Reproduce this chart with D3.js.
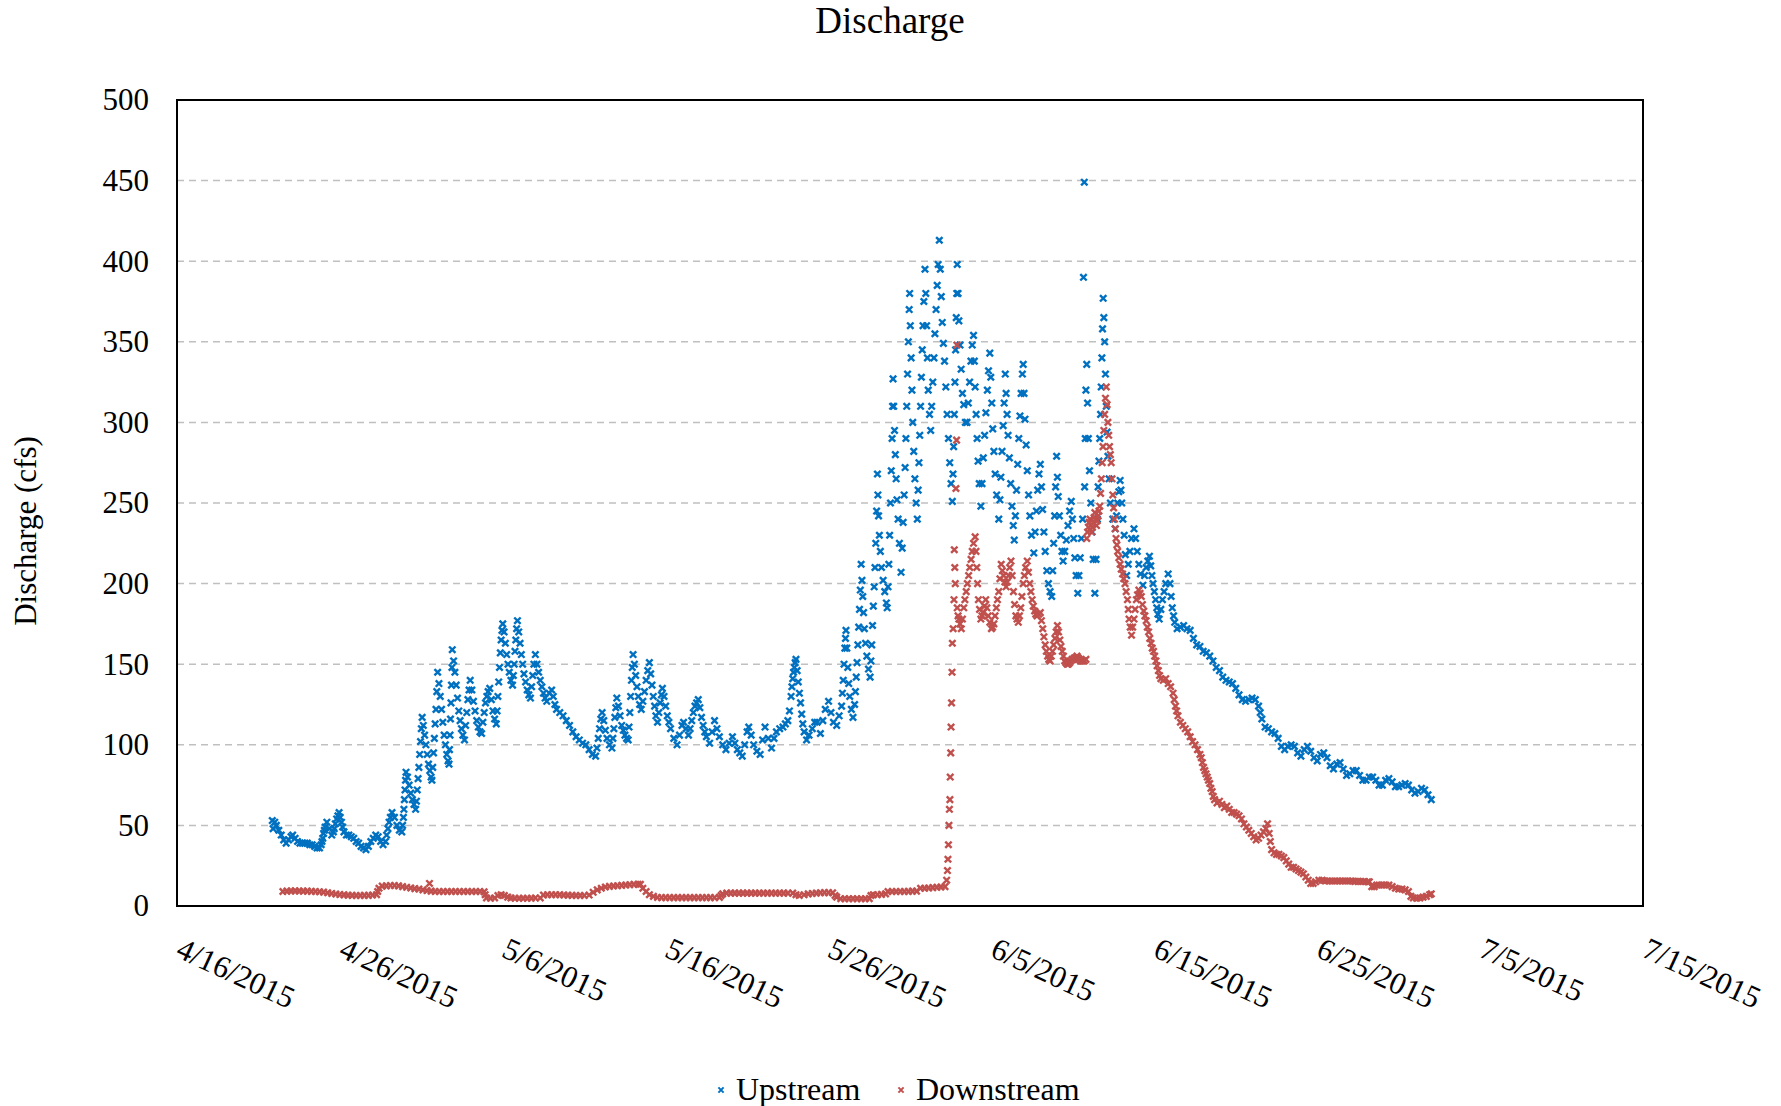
<!DOCTYPE html>
<html lang="en">
<head>
<meta charset="UTF-8">
<title>Discharge</title>
<script src="https://d3js.org/d3.v7.min.js"></script>
<style>
  body { margin: 0; background: #fff; }
  text { font-family: "Liberation Serif", "Times New Roman", serif; fill: #000; }
  .grid line { stroke: #c0c0c0; stroke-width: 1.5; stroke-dasharray: 7,5; }
  .axis path { display: none; }
</style>
</head>
<body>
<div id="chart"></div>
<script>
const yTicks = [0, 50, 100, 150, 200, 250, 300, 350, 400, 450, 500];
const xTickDates = ["2015-04-16", "2015-04-26", "2015-05-06", "2015-05-16", "2015-05-26",
                    "2015-06-05", "2015-06-15", "2015-06-25", "2015-07-05", "2015-07-15"];
const seriesNames = ["Upstream", "Downstream"];
const seriesColors = ["#0070C0", "#C0504D"];

// [days after 4/16/2015 00:00, discharge cfs]
const upstream = [
  [5.85,53],[5.9,48],[6.0,52],[6.1,50],[6.25,47],[6.4,44],[6.55,41],[6.7,39],[6.85,41],[7.0,43],
  [7.1,44],[7.25,42],[7.4,40],[7.55,39],[7.7,39],[7.85,39],[8.0,39],[8.15,38],[8.3,38],[8.45,37],
  [8.6,36],[8.75,36],[8.85,38],[8.9,40],[8.95,42],[9.0,45],[9.05,47],[9.1,49],[9.2,52],[9.35,48],[9.5,44],
  [9.6,46],[9.65,48],[9.72,51],[9.8,54],[9.88,56],[9.95,58],[10.02,55],[10.1,52],[10.17,49],[10.25,46],
  [10.4,44],[10.55,44],[10.7,43],[10.85,42],[11.0,40],[11.15,39],[11.3,37],[11.45,36],[11.6,35],[11.75,37],
  [11.9,40],[12.05,42],[12.2,44],[12.35,43],[12.5,40],[12.65,38],[12.8,40],[12.87,44],[12.95,48],[13.02,52],
  [13.1,55],[13.2,58],[13.35,55],[13.5,50],[13.65,47],[13.8,46],[13.85,50],[13.9,55],[13.93,60],[13.96,66],
  [14.0,72],[14.03,78],[14.06,83],[14.15,80],[14.25,75],[14.35,70],[14.45,66],[14.55,63],[14.65,60],
  [14.7,65],[14.75,72],[14.8,79],[14.85,86],[14.9,94],[14.95,102],[15.0,110],[15.05,117],[15.12,112],
  [15.2,106],[15.28,100],[15.36,94],[15.44,88],[15.52,84],[15.6,80],[15.65,78],[15.7,86],[15.75,95],
  [15.8,104],[15.85,113],[15.9,122],[15.95,133],[16.0,145],[16.08,138],[16.16,130],[16.24,122],[16.32,114],
  [16.4,106],[16.48,100],[16.56,94],[16.64,90],[16.7,88],[16.73,97],[16.76,106],[16.79,116],[16.82,126],
  [16.85,137],[16.88,148],[16.9,159],[16.98,152],[17.06,145],[17.14,137],[17.22,129],[17.3,121],[17.38,115],
  [17.46,110],[17.55,106],[17.65,103],[17.72,112],[17.79,120],[17.86,128],[17.93,134],[18.0,140],[18.1,134],
  [18.2,127],[18.3,121],[18.4,115],[18.5,111],[18.6,108],[18.7,107],[18.78,114],[18.86,120],[18.94,126],
  [19.02,130],[19.1,133],[19.2,135],[19.3,128],[19.4,121],[19.5,116],[19.6,113],[19.65,121],[19.7,130],
  [19.75,139],[19.8,148],[19.85,157],[19.9,165],[19.95,171],[20.0,175],[20.08,170],[20.16,163],[20.24,156],
  [20.32,150],[20.4,145],[20.5,140],[20.6,137],[20.65,143],[20.7,150],[20.75,158],[20.8,165],[20.85,172],
  [20.9,177],[20.98,170],[21.06,163],[21.14,156],[21.22,150],[21.3,144],[21.4,139],[21.5,134],[21.6,131],
  [21.7,129],[21.77,136],[21.84,143],[21.91,150],[22.0,156],[22.1,150],[22.2,145],[22.3,140],[22.4,136],
  [22.5,132],[22.6,129],[22.7,127],[22.85,132],[23.0,134],[23.1,130],[23.2,125],[23.3,122],[23.5,120],
  [23.7,118],[23.9,115],[24.1,112],[24.3,108],[24.5,105],[24.7,103],[24.9,101],[25.1,100],[25.3,97],
  [25.5,94],[25.7,93],[25.78,98],[25.86,104],[25.94,110],[26.02,116],[26.1,120],[26.2,115],[26.3,109],
  [26.4,104],[26.55,100],[26.7,98],[26.76,104],[26.82,110],[26.88,117],[26.94,123],[27.0,129],[27.1,124],
  [27.2,118],[27.3,112],[27.4,109],[27.5,106],[27.6,104],[27.7,103],[27.75,111],[27.8,120],[27.85,130],
  [27.9,140],[27.95,148],[28.0,156],[28.08,150],[28.16,143],[28.24,136],[28.32,130],[28.4,125],[28.5,122],
  [28.6,127],[28.7,133],[28.8,140],[28.9,146],[29.0,151],[29.08,144],[29.16,137],[29.24,130],[29.32,124],
  [29.4,118],[29.5,114],[29.58,120],[29.66,126],[29.74,131],[29.8,135],[29.9,130],[30.0,124],[30.1,118],
  [30.2,114],[30.3,110],[30.5,104],[30.7,100],[30.85,106],[31.0,112],[31.1,114],[31.25,110],[31.4,106],
  [31.5,110],[31.6,115],[31.7,120],[31.8,124],[31.9,126],[32.0,128],[32.1,123],[32.2,117],[32.3,112],
  [32.4,108],[32.5,105],[32.7,101],[32.85,108],[33.0,115],[33.15,110],[33.3,105],[33.5,100],[33.7,97],
  [33.9,101],[34.1,105],[34.25,101],[34.4,97],[34.55,95],[34.7,93],[34.85,100],[35.0,108],[35.1,111],
  [35.25,106],[35.4,100],[35.6,96],[35.8,94],[35.95,103],[36.1,111],[36.3,104],[36.5,98],[36.65,104],
  [36.8,108],[37.0,110],[37.2,111],[37.35,113],[37.5,115],[37.6,121],[37.7,130],[37.75,136],[37.8,141],
  [37.85,145],[37.9,148],[37.95,151],[38.0,153],[38.07,146],[38.14,139],[38.21,132],[38.28,126],[38.35,119],
  [38.42,113],[38.5,108],[38.65,103],[38.8,106],[39.0,110],[39.15,114],[39.3,114],[39.5,107],[39.65,115],
  [39.8,122],[40.0,127],[40.15,120],[40.3,114],[40.5,112],[40.65,118],[40.8,124],[40.85,132],[40.9,140],
  [40.95,150],[41.0,160],[41.04,166],[41.07,171],[41.12,160],[41.18,148],[41.24,138],[41.3,130],[41.4,122],
  [41.5,117],[41.6,125],[41.65,133],[41.7,142],[41.75,151],[41.8,162],[41.85,173],[41.9,184],[41.95,196],
  [42.0,212],[42.05,202],[42.1,192],[42.15,182],[42.2,172],[42.27,163],[42.35,155],[42.45,147],[42.55,142],
  [42.6,152],[42.65,162],[42.7,174],[42.75,186],[42.8,198],[42.85,210],[42.9,225],[42.95,245],[43.0,268],
  [43.03,255],[43.07,242],[43.12,230],[43.18,220],[43.25,210],[43.35,202],[43.45,195],[43.55,188],[43.6,185],
  [43.65,198],[43.7,212],[43.75,230],[43.8,250],[43.85,270],[43.9,290],[43.93,310],[43.96,327],[44.0,310],
  [44.05,295],[44.1,280],[44.15,265],[44.2,252],[44.27,240],[44.35,225],[44.45,207],[44.52,222],[44.58,238],
  [44.64,255],[44.7,272],[44.75,290],[44.8,310],[44.85,330],[44.9,350],[44.95,370],[44.98,380],[45.02,360],
  [45.07,340],[45.12,320],[45.17,300],[45.23,282],[45.3,265],[45.38,250],[45.45,240],[45.5,258],[45.55,275],
  [45.6,292],[45.65,310],[45.7,328],[45.75,345],[45.8,360],[45.85,375],[45.92,395],[45.97,380],[46.02,360],
  [46.07,340],[46.12,320],[46.2,305],[46.27,295],[46.33,310],[46.4,325],[46.47,340],[46.53,355],[46.6,370],
  [46.67,385],[46.73,398],[46.8,413],[46.86,395],[46.92,378],[46.98,362],[47.05,349],[47.12,338],[47.2,322],
  [47.28,305],[47.36,290],[47.44,275],[47.52,262],[47.6,251],[47.64,268],[47.68,285],[47.72,305],[47.76,325],
  [47.8,345],[47.84,365],[47.87,380],[47.9,398],[47.95,380],[48.0,363],[48.07,348],[48.14,333],[48.22,318],
  [48.3,311],[48.4,300],[48.5,300],[48.58,312],[48.66,325],[48.74,338],[48.82,348],[48.9,354],[48.95,338],
  [49.0,322],[49.06,305],[49.12,290],[49.18,276],[49.25,262],[49.35,248],[49.42,262],[49.5,278],[49.58,292],
  [49.66,306],[49.75,320],[49.82,332],[49.9,343],[49.96,328],[50.02,312],[50.08,296],[50.15,282],[50.23,268],
  [50.32,255],[50.45,240],[50.52,252],[50.58,266],[50.65,282],[50.72,298],[50.78,312],[50.85,330],[50.9,318],
  [50.96,305],[51.02,292],[51.1,278],[51.18,262],[51.26,248],[51.34,236],[51.4,227],[51.47,242],[51.54,258],
  [51.61,274],[51.68,290],[51.75,304],[51.82,318],[51.9,330],[51.95,336],[52.0,318],[52.06,302],[52.13,286],
  [52.2,270],[52.28,255],[52.36,242],[52.46,230],[52.6,219],[52.68,232],[52.76,245],[52.84,258],[52.92,268],
  [53.0,274],[53.07,260],[53.14,246],[53.22,232],[53.3,220],[53.4,208],[53.5,200],[53.6,195],[53.7,192],
  [53.76,208],[53.82,225],[53.88,242],[53.94,260],[54.0,279],[54.05,266],[54.1,254],[54.17,242],[54.25,230],
  [54.33,220],[54.4,214],[54.5,220],[54.6,227],[54.7,236],[54.8,245],[54.9,251],[54.97,240],[55.05,228],
  [55.12,216],[55.2,205],[55.3,194],[55.37,205],[55.45,216],[55.52,228],[55.6,240],[55.65,390],[55.7,449],
  [55.72,260],[55.76,290],[55.8,320],[55.85,336],[55.9,312],[55.95,290],[56.02,270],[56.1,250],[56.18,232],
  [56.25,215],[56.35,194],[56.42,215],[56.5,240],[56.55,260],[56.6,276],[56.65,290],[56.7,305],[56.74,322],
  [56.78,340],[56.82,358],[56.86,377],[56.9,365],[56.95,350],[57.0,330],[57.05,310],[57.1,294],[57.15,279],
  [57.22,265],[57.3,250],[57.45,240],[57.6,234],[57.68,242],[57.75,250],[57.82,257],[57.9,264],[57.95,258],
  [58.0,250],[58.07,240],[58.15,230],[58.22,218],[58.3,205],[58.4,212],[58.5,220],[58.6,228],[58.75,234],
  [58.85,228],[58.95,220],[59.05,212],[59.15,206],[59.3,199],[59.4,205],[59.5,210],[59.6,214],[59.7,217],
  [59.78,211],[59.85,205],[59.92,200],[60.0,195],[60.08,190],[60.15,185],[60.22,181],[60.3,178],[60.4,184],
  [60.5,190],[60.6,195],[60.7,200],[60.85,206],[60.96,200],[61.03,192],[61.1,185],[61.18,180],[61.25,176],
  [61.4,172],[61.6,173],[61.8,174],[62.0,172],[62.2,171],[62.4,166],[62.6,162],[62.8,161],[63.0,158],
  [63.2,157],[63.4,155],[63.6,152],[63.8,148],[64.0,146],[64.2,142],[64.4,140],[64.6,139],[64.8,138],
  [65.0,135],[65.2,131],[65.4,128],[65.6,127],[65.8,128],[66.0,129],[66.2,128],[66.4,124],[66.5,120],
  [66.6,116],[66.8,111],[67.0,110],[67.2,108],[67.4,107],[67.6,104],[67.8,99],[68.0,97],[68.2,99],
  [68.4,100],[68.6,99],[68.8,95],[69.0,93],[69.2,97],[69.4,99],[69.6,96],[69.8,92],[70.0,90],[70.2,94],
  [70.4,95],[70.6,92],[70.8,87],[71.0,85],[71.2,88],[71.4,89],[71.6,85],[71.8,81],[72.0,82],[72.2,84],
  [72.4,84],[72.6,81],[72.8,78],[73.0,78],[73.2,80],[73.4,80],[73.6,78],[73.8,75],[74.0,75],[74.2,78],
  [74.4,79],[74.6,77],[74.8,74],[75.0,74],[75.2,75],[75.4,76],[75.6,75],[75.8,72],[76.0,70],[76.2,71],
  [76.4,73],[76.6,72],[76.8,69],[77.0,66]
];

const downstream = [
  [6.5,9],[6.75,9.2],[7,9.3],[7.25,9.4],[7.5,9.3],[7.75,9.2],[8,9.2],[8.25,9.1],[8.5,9],[8.75,8.8],
  [9,8.6],[9.25,8.2],[9.5,7.8],[9.75,7.4],[10,7.1],[10.25,6.9],[10.5,6.7],[10.75,6.6],[11,6.5],[11.25,6.5],
  [11.5,6.6],[11.75,6.6],[12,6.8],[12.25,7],[12.32,9],[12.4,11],[12.6,12.3],[12.85,12.5],[13.1,12.7],[13.35,12.7],
  [13.6,12.5],[13.85,12],[14.1,11.6],[14.35,11.2],[14.6,10.8],[14.85,10.5],[15.1,10],[15.35,9.6],[15.5,14],
  [15.6,9.2],[15.85,9],[16.1,9],[16.35,9],[16.6,9],[16.85,9],[17.1,9],[17.35,9],[17.6,9],[17.85,9],
  [18.1,9],[18.35,9],[18.6,9],[18.85,8.8],[18.92,7],[19,5],[19.25,4.8],[19.5,5],[19.7,6.5],[19.9,7],[20.1,6.5],
  [20.3,5.5],[20.5,5],[20.75,4.8],[21,4.8],[21.25,4.8],[21.5,4.8],[21.75,4.8],[22,5],[22.3,5],[22.5,6.8],
  [22.75,7],[23,7],[23.25,7],[23.5,7],[23.75,6.8],[24,6.7],[24.25,6.6],[24.5,6.5],[24.75,6.5],[25,6.5],
  [25.3,6.8],[25.55,8.5],[25.8,10],[26.05,11],[26.3,11.8],[26.55,12.2],[26.8,12.4],[27.05,12.6],[27.3,12.8],
  [27.55,13],[27.8,13.2],[28.05,13.4],[28.3,13.5],[28.45,13.5],[28.6,11],[28.8,9],[29,7],[29.25,6],
  [29.5,5.3],[29.75,5.2],[30,5.2],[30.25,5.2],[30.5,5.2],[30.75,5.2],[31,5.2],[31.25,5.2],[31.5,5.2],
  [31.75,5.2],[32,5.2],[32.25,5.2],[32.5,5.2],[32.75,5.2],[33,5.2],[33.3,5.3],[33.4,6.5],[33.5,7.5],[33.75,8],
  [34,8],[34.25,8],[34.5,8],[34.75,8],[35,8],[35.25,8],[35.5,8],[35.75,8],[36,8],[36.25,8],[36.5,8],
  [36.75,8],[37,8],[37.25,8],[37.5,8],[37.8,8],[38,7],[38.2,6.5],[38.5,7],[38.75,7.5],[39,7.8],[39.25,8],
  [39.5,8.2],[39.75,8.3],[40,8.3],[40.25,8.2],[40.4,6.5],[40.5,5.5],[40.75,4.5],[41,4.5],[41.25,4.5],[41.5,4.5],
  [41.75,4.5],[42,4.5],[42.25,4.5],[42.5,4.6],[42.6,6.5],[42.75,7],[43,7],[43.25,7.2],[43.5,7.5],
  [43.65,9],[43.9,9],[44.15,9],[44.4,9],[44.65,9],[44.9,9.1],[45.15,9.2],[45.4,9.2],[45.65,11],[45.9,11],
  [46.15,11.2],[46.4,11.4],[46.65,11.6],[46.9,11.8],[47.15,12],[47.25,16],[47.3,22],[47.33,29],[47.36,38],
  [47.39,50],[47.42,60],[47.45,66],[47.47,80],[47.5,95],[47.52,111],[47.55,126],[47.58,145],[47.6,163],
  [47.65,172],[47.7,190],[47.72,221],[47.75,210],[47.78,200],[47.82,259],[47.86,289],[47.88,348],[47.9,185],
  [47.95,180],[48,178],[48.07,175],[48.15,172],[48.22,178],[48.3,185],[48.37,190],[48.45,195],[48.52,200],
  [48.6,205],[48.67,210],[48.75,215],[48.82,220],[48.9,225],[49,229],[49.05,220],[49.1,210],[49.15,200],
  [49.2,190],[49.27,184],[49.35,178],[49.42,180],[49.5,182],[49.57,186],[49.65,190],[49.72,185],[49.8,180],
  [49.9,176],[50,172],[50.07,173],[50.15,175],[50.22,180],[50.3,185],[50.37,190],[50.45,195],[50.52,203],
  [50.6,212],[50.67,208],[50.75,205],[50.82,201],[50.9,198],[50.97,201],[51.05,205],[51.12,210],[51.2,214],
  [51.27,205],[51.35,195],[51.42,187],[51.5,180],[51.57,178],[51.65,176],[51.72,180],[51.8,185],[51.87,192],
  [51.95,200],[52.02,205],[52.1,210],[52.2,214],[52.27,207],[52.35,200],[52.42,195],[52.5,190],[52.57,186],
  [52.65,183],[52.72,181],[52.8,180],[52.9,181],[53,182],[53.07,177],[53.15,172],[53.22,167],[53.3,162],
  [53.37,158],[53.45,155],[53.52,153],[53.6,152],[53.67,155],[53.75,158],[53.82,162],[53.9,166],[53.97,170],
  [54.05,174],[54.12,170],[54.2,165],[54.27,161],[54.35,158],[54.42,155],[54.5,152],[54.57,151],[54.65,150],
  [54.72,150],[54.8,151],[54.87,152],[54.95,153],[55.02,153],[55.1,154],[55.17,154],[55.25,155],[55.32,154],
  [55.4,153],[55.47,152],[55.55,152],[55.62,152],[55.7,152],[55.8,153],[55.85,228],[55.9,232],[55.95,235],
  [56,238],[56.05,240],[56.1,236],[56.15,232],[56.2,235],[56.25,238],[56.3,241],[56.35,244],[56.4,240],
  [56.45,236],[56.5,239],[56.55,242],[56.6,245],[56.65,248],[56.7,256],[56.75,265],[56.8,275],[56.85,285],
  [56.9,295],[56.95,305],[57,315],[57.05,322],[57.1,311],[57.15,300],[57.2,292],[57.25,285],[57.3,280],
  [57.35,275],[57.4,265],[57.45,255],[57.5,247],[57.55,240],[57.6,234],[57.65,228],[57.7,224],[57.75,220],
  [57.82,216],[57.9,212],[57.97,209],[58.05,206],[58.12,203],[58.2,200],[58.27,195],[58.35,190],[58.4,184],
  [58.45,178],[58.52,173],[58.6,168],[58.67,173],[58.75,178],[58.82,184],[58.9,190],[58.97,193],[59.05,196],
  [59.12,194],[59.2,192],[59.27,187],[59.35,183],[59.42,180],[59.5,177],[59.57,173],[59.65,170],[59.72,166],
  [59.8,163],[59.87,160],[59.95,158],[60.02,155],[60.1,152],[60.17,149],[60.25,146],[60.32,143],[60.4,141],
  [60.55,140],[60.7,141],[60.85,138],[61,136],[61.15,132],[61.22,128],[61.3,124],[61.37,121],[61.45,118],
  [61.6,114],[61.75,112],[61.9,110],[62.05,108],[62.2,105],[62.35,102],[62.5,100],[62.65,97],[62.8,94],
  [62.88,92],[62.95,89],[63.02,86],[63.1,84],[63.17,82],[63.25,80],[63.32,78],[63.4,76],[63.47,73],
  [63.55,71],[63.62,68],[63.7,66],[63.85,64],[64,65],[64.15,63],[64.3,61],[64.45,62],[64.6,60],[64.75,58],
  [64.9,58],[65.05,57],[65.2,56],[65.35,54],[65.5,51],[65.65,49],[65.8,47],[65.95,45],[66.1,43],[66.25,41],
  [66.4,42],[66.55,44],[66.7,46],[66.85,48],[66.95,51],[67.05,45],[67.12,40],[67.2,35],[67.35,33],[67.5,32],
  [67.65,32],[67.8,31],[67.95,30],[68.1,28],[68.25,26],[68.4,24],[68.55,24],[68.7,23],[68.85,22],[69,21],
  [69.15,20],[69.3,18],[69.45,16],[69.6,14],[69.75,14],[69.9,15],[70.1,16],[70.3,16],[70.5,15.5],
  [70.7,15.5],[70.9,15.5],[71.1,15.5],[71.3,15.5],[71.5,15.5],[71.7,15.5],[71.9,15.5],[72.1,15.5],
  [72.3,15.3],[72.5,15.3],[72.7,15.2],[72.9,15.2],[73.1,15],[73.2,15],[73.35,12],[73.5,12],[73.65,13],
  [73.8,13],[74,13],[74.2,13],[74.4,13],[74.6,12],[74.8,11],[75,10.5],[75.2,10.5],[75.4,10],[75.6,9],
  [75.75,6],[75.9,5],[76.1,4.8],[76.3,5],[76.5,5.5],[76.7,6],[76.9,7],[77,7.5]
];

const W = 1781, H = 1106;
const margin = { top: 100, right: 138, bottom: 200, left: 177 };
const width = W - margin.left - margin.right,
      height = H - margin.top - margin.bottom;

const parseDay = d3.timeParse("%Y-%m-%d");
const startDay = parseDay(xTickDates[0]);
const toDate = d => new Date(startDay.getTime() + d * 864e5);

const svg = d3.select("#chart").append("svg")
  .attr("width", W).attr("height", H);

const g = svg.append("g")
  .attr("transform", `translate(${margin.left},${margin.top})`);

const x = d3.scaleTime()
  .domain([startDay, parseDay(xTickDates[xTickDates.length - 1])])
  .range([0, width]);

const y = d3.scaleLinear()
  .domain([0, 500])
  .range([height, 0]);

// gridlines (dashed, not at 0 / 500)
g.append("g").attr("class", "grid")
  .selectAll("line")
  .data(yTicks.filter(v => v > 0 && v < 500))
  .join("line")
  .attr("x1", 0).attr("x2", width)
  .attr("y1", d => y(d)).attr("y2", d => y(d));

// y axis labels
g.append("g").attr("class", "axis")
  .call(d3.axisLeft(y).tickValues(yTicks).tickSize(0).tickPadding(28))
  .call(a => a.selectAll("text")
    .style("font-size", "31px")
    .style("font-family", '"Liberation Serif", "Times New Roman", serif'));

// x axis labels, rotated
g.append("g").attr("class", "axis")
  .attr("transform", `translate(0,${height})`)
  .call(d3.axisBottom(x)
    .tickValues(xTickDates.map(parseDay))
    .tickSize(0)
    .tickFormat(d3.timeFormat("%-m/%-d/%Y")))
  .call(a => a.selectAll("text")
    .attr("x", 0).attr("y", 0).attr("dy", 0)
    .attr("text-anchor", "start")
    .attr("transform", "translate(-3,50) rotate(25)")
    .style("font-size", "31px")
    .style("font-family", '"Liberation Serif", "Times New Roman", serif'));

const marker = "M-3.2,-3.2L3.2,3.2M-3.2,3.2L3.2,-3.2";

[upstream, downstream].forEach((series, i) => {
  g.append("g")
    .selectAll("path")
    .data(series)
    .join("path")
    .attr("d", marker)
    .attr("transform", d => `translate(${x(toDate(d[0]))},${y(d[1])})`)
    .attr("fill", "none")
    .attr("stroke", seriesColors[i])
    .attr("stroke-width", 2.4);
});

// plot border
g.append("rect")
  .attr("width", width).attr("height", height)
  .attr("fill", "none")
  .attr("stroke", "#000")
  .attr("stroke-width", 2);

// title
svg.append("text")
  .attr("x", 890).attr("y", 33)
  .attr("text-anchor", "middle")
  .style("font-size", "37px")
  .text("Discharge");

// y axis title
svg.append("text")
  .attr("transform", "translate(36,531) rotate(-90)")
  .attr("text-anchor", "middle")
  .style("font-size", "31px")
  .text("Discharge (cfs)");

// legend
const legendX = [721, 901];
seriesNames.forEach((name, i) => {
  svg.append("path")
    .attr("d", "M-2.6,-2.6L2.6,2.6M-2.6,2.6L2.6,-2.6")
    .attr("transform", `translate(${legendX[i]},1090)`)
    .attr("fill", "none")
    .attr("stroke", seriesColors[i])
    .attr("stroke-width", 2);
  svg.append("text")
    .attr("x", legendX[i] + 15).attr("y", 1100)
    .style("font-size", "32px")
    .text(name);
});
</script>
</body>
</html>
